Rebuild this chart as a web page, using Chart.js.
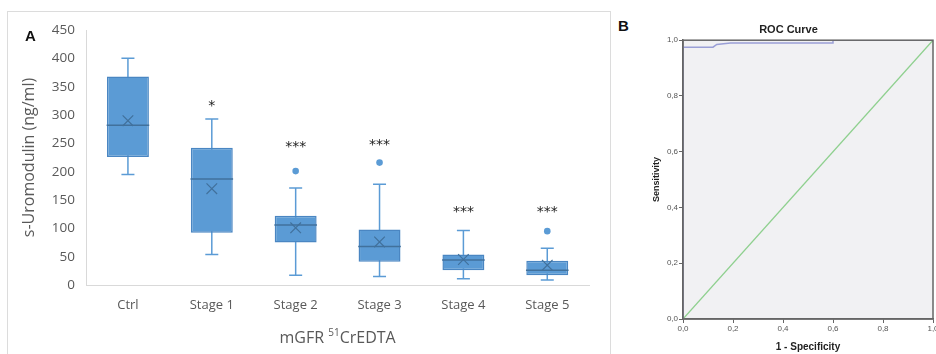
<!DOCTYPE html>
<html>
<head>
<meta charset="utf-8">
<script src="https://cdn.jsdelivr.net/npm/chart.js@4.4.1/dist/chart.umd.min.js"></script>
<style>
  body { margin: 0; background: #fff; width: 936px; height: 354px; overflow: hidden; position: relative; }
  .wrap { position: absolute; }
  .tag { position: absolute; font: bold 15px 'Liberation Sans', sans-serif; color: #111; }
</style>
</head>
<body>
<div style="position:absolute;left:7px;top:11px;width:604px;height:360px;border:1px solid #dcdcdc;box-sizing:border-box"></div>
<div class="wrap" style="left:0;top:0;width:612px;height:354px"><canvas id="chartA"></canvas></div>
<div class="wrap" style="left:644px;top:0;width:292px;height:354px"><canvas id="chartB"></canvas></div>
<div class="tag" style="left:25px;top:27px">A</div>
<div class="tag" style="left:618px;top:17px">B</div>
<script>
// Panel A - box plot values (ng/ml)
var categories = ['Ctrl', 'Stage 1', 'Stage 2', 'Stage 3', 'Stage 4', 'Stage 5'];
var minVals    = [195, 54, 17, 15, 11, 9];
var q1Vals     = [226, 92, 75, 41, 26, 17];
var medianVals = [282, 187, 106, 68, 44, 26];
var q3Vals     = [368, 242, 122, 98, 54, 43];
var maxVals    = [400, 293, 171, 178, 96, 65];
var meanVals   = [290, 170, 101, 76, 45, 35];
var outlierVals = [null, null, 201, 216, null, 95];
var starText   = ['', '*', '***', '***', '***', '***'];
var starVals   = [null, 321, 249, 252, 133, 133];
var yTicksA    = { min: 0, max: 450, step: 50 };

// Panel B - ROC curve
var rocFpr = [0, 0, 0.12, 0.135, 0.19, 0.6, 0.6, 1];
var rocTpr = [0, 0.975, 0.975, 0.985, 0.99, 0.99, 1, 1];
var refFpr = [0, 1];
var refTpr = [0, 1];

var blue = '#5b9bd5';
var darkBlue = '#41719c';
var grey = '#595959';

// stars + x title with superscript
var extrasA = {
    id: 'extrasA',
    afterDatasetsDraw: function(chart) {
        var ctx = chart.ctx, xs = chart.scales.x, ys = chart.scales.y;
        ctx.save();
        ctx.fillStyle = '#222';
        ctx.font = '14px "DejaVu Sans"';
        ctx.textAlign = 'center';
        ctx.textBaseline = 'middle';
        for (var i = 0; i < categories.length; i++) {
            if (starVals[i] == null) continue;
            ctx.fillText(starText[i], xs.getPixelForValue(i), ys.getPixelForValue(starVals[i]) + 3);
        }
        ctx.restore();
    },
    afterDraw: function(chart) {
        var ctx = chart.ctx, a = chart.chartArea;
        ctx.save();
        ctx.fillStyle = grey;
        ctx.textBaseline = 'middle';
        var big = '16px "Open Sans"', small = '10px "Open Sans"';
        ctx.font = big; var w1 = ctx.measureText('mGFR ').width; var w3 = ctx.measureText('CrEDTA').width;
        ctx.font = small; var w2 = ctx.measureText('51').width;
        var x = (a.left + a.right) / 2 - (w1 + w2 + w3) / 2, y = 338;
        ctx.font = big; ctx.fillText('mGFR ', x, y);
        ctx.font = small; ctx.fillText('51', x + w1, y - 5);
        ctx.font = big; ctx.fillText('CrEDTA', x + w1 + w2, y);
        ctx.restore();
    }
};

new Chart(document.getElementById('chartA'), {
    type: 'bar',
    data: {
        labels: categories,
        datasets: [
            // whiskers
            {
                data: minVals.map(function(v, i) { return [v, maxVals[i]]; }),
                backgroundColor: blue,
                grouped: false,
                maxBarThickness: 1.5,
                order: 5
            },
            // boxes
            {
                data: q1Vals.map(function(v, i) { return [v, q3Vals[i]]; }),
                backgroundColor: blue,
                borderColor: '#4a86c2',
                borderWidth: 1.5,
                borderSkipped: false,
                grouped: false,
                categoryPercentage: 1,
                barPercentage: 0.5,
                order: 4
            },
            { type: 'line', data: medianVals, showLine: false, pointStyle: 'line', pointRadius: 21.3,
              pointBorderColor: darkBlue, pointBorderWidth: 1.5, order: 1 },
            { type: 'line', data: meanVals, showLine: false, pointStyle: 'crossRot', pointRadius: 7.5,
              pointBorderColor: darkBlue, pointBorderWidth: 1.2, order: 1 },
            { type: 'line', data: minVals, showLine: false, pointStyle: 'line', pointRadius: 6.5,
              pointBorderColor: blue, pointBorderWidth: 1.5, order: 1 },
            { type: 'line', data: maxVals, showLine: false, pointStyle: 'line', pointRadius: 6.5,
              pointBorderColor: blue, pointBorderWidth: 1.5, order: 1 },
            { type: 'line', data: outlierVals, showLine: false, pointStyle: 'circle', pointRadius: 3.3,
              pointBackgroundColor: blue, pointBorderColor: blue, pointBorderWidth: 0, order: 1 }
        ]
    },
    options: {
        responsive: true,
        maintainAspectRatio: false,
        animation: false,
        devicePixelRatio: 1,
        layout: { padding: { left: 16, right: 14, top: 30, bottom: 2 } },
        plugins: { legend: { display: false }, tooltip: { enabled: false } },
        scales: {
            x: {
                grid: { display: false, drawTicks: false },
                border: { color: '#d9d9d9', width: 1 },
                ticks: { color: grey, font: { family: 'Open Sans', size: 13 }, padding: 12 },
                afterFit: function(s) { s.height = 67; }
            },
            y: {
                min: yTicksA.min, max: yTicksA.max,
                grid: { display: false, drawTicks: false },
                border: { color: '#d9d9d9', width: 1 },
                ticks: { stepSize: yTicksA.step, color: grey, font: { family: 'Open Sans', size: 13.5 }, padding: 11 },
                title: { display: true, text: 's-Uromodulin (ng/ml)', color: grey,
                         font: { family: 'Open Sans', size: 16 }, padding: { top: 4, bottom: 0 } },
                afterFit: function(s) { s.width = 70; }
            }
        }
    },
    plugins: [extrasA]
});

var frameB = {
    id: 'frameB',
    beforeDraw: function(chart) {
        var ctx = chart.ctx, a = chart.chartArea;
        ctx.save();
        ctx.fillStyle = '#f1f1f3';
        ctx.fillRect(a.left, a.top, a.right - a.left, a.bottom - a.top);
        ctx.restore();
    },
    afterDraw: function(chart) {
        var ctx = chart.ctx, a = chart.chartArea;
        ctx.save();
        ctx.strokeStyle = '#666';
        ctx.lineWidth = 1.5;
        ctx.strokeRect(a.left, a.top, a.right - a.left, a.bottom - a.top);
        ctx.restore();
    }
};

function commaTick(v) { return v.toFixed(1).replace('.', ','); }

new Chart(document.getElementById('chartB'), {
    type: 'scatter',
    data: {
        datasets: [
            {
                data: rocFpr.map(function(x, i) { return { x: x, y: rocTpr[i] }; }),
                showLine: true, borderColor: '#9a9fd6', borderWidth: 1.5, pointRadius: 0, order: 1
            },
            {
                data: refFpr.map(function(x, i) { return { x: x, y: refTpr[i] }; }),
                showLine: true, borderColor: '#8fd08f', borderWidth: 1.3, pointRadius: 0, order: 2
            }
        ]
    },
    options: {
        responsive: true,
        maintainAspectRatio: false,
        animation: false,
        devicePixelRatio: 1,
        layout: { padding: { left: 0, right: 3, top: 0, bottom: 0 } },
        plugins: {
            legend: { display: false },
            tooltip: { enabled: false },
            title: { display: true, text: 'ROC Curve', color: '#222',
                     font: { family: 'Liberation Sans', size: 11, weight: 'bold' }, padding: { top: 23, bottom: 4 } }
        },
        scales: {
            x: {
                type: 'linear', min: 0, max: 1,
                grid: { drawOnChartArea: false, tickLength: 4, color: '#666' },
                border: { color: '#666', width: 1.5 },
                ticks: { stepSize: 0.2, callback: commaTick, color: '#555', maxRotation: 0,
                         font: { family: 'Liberation Sans', size: 8 }, padding: 1 },
                title: { display: true, text: '1 - Specificity', color: '#222',
                         font: { family: 'Liberation Sans', size: 10, weight: 'bold' }, padding: { top: 0, bottom: 1 } },
                afterFit: function(s) { s.height = 35; s.paddingRight = 0; s.paddingLeft = 0; }
            },
            y: {
                type: 'linear', min: 0, max: 1,
                grid: { drawOnChartArea: false, tickLength: 4, color: '#666' },
                border: { color: '#666', width: 1.5 },
                ticks: { stepSize: 0.2, callback: commaTick, color: '#555',
                         font: { family: 'Liberation Sans', size: 8 }, padding: 1 },
                title: { display: true, text: 'Sensitivity', color: '#222',
                         font: { family: 'Liberation Sans', size: 9, weight: 'bold' }, padding: { top: 7, bottom: 0 } },
                afterFit: function(s) { s.width = 39; }
            }
        }
    },
    plugins: [frameB]
});
</script>
</body>
</html>
